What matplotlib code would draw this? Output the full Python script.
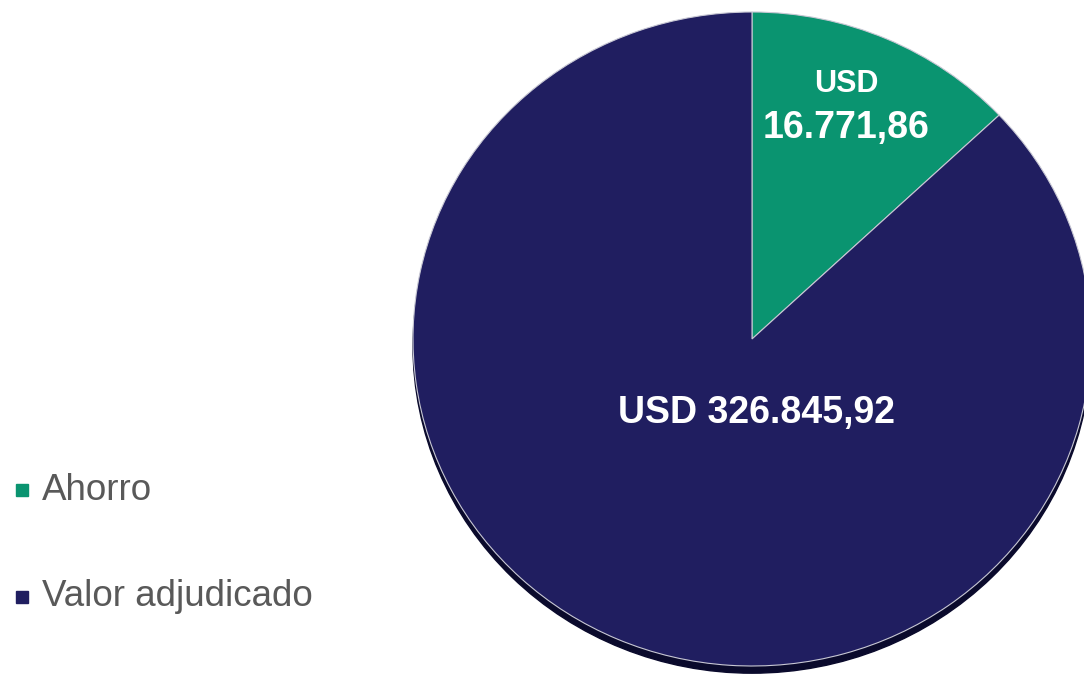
import matplotlib.pyplot as plt
from matplotlib.patches import Ellipse, Rectangle

categorias = ["Ahorro", "Valor adjudicado"]
# participación de cada porción tal como se ve en el gráfico (%)
participacion = [13.0, 87.0]
etiquetas = ["USD\n16.771,86", "USD 326.845,92"]
colores = ["#0A9470", "#201E60"]

plt.rcParams["font.family"] = ["Liberation Sans", "DejaVu Sans"]

fig = plt.figure(figsize=(10.84, 6.74), dpi=100)
ax = fig.add_axes([0, 0, 1, 1])

# centro y radios del pastel en píxeles
cx, cy, rx, ry = 752, 339, 339, 327

# sombra inferior
ax.add_patch(Ellipse((0, -0.022), 2.0, 2.0, color="#0a0a2c", zorder=0))

cunas, _ = ax.pie(participacion, colors=colores, startangle=90, counterclock=False,
                  radius=1.0, center=(0, 0), frame=True,
                  wedgeprops=dict(edgecolor="#c8c8d4", linewidth=0.8))
ax.set_xlim(-cx / rx, (1084 - cx) / rx)
ax.set_ylim(-(674 - cy) / ry, cy / ry)
ax.set_aspect("auto")
ax.axis("off")

# etiquetas de datos
linea1, linea2 = etiquetas[0].split("\n")
ax.text((846 - cx) / rx, (cy - 84) / ry, linea1, color="white",
        fontsize=22, fontweight="bold", ha="center", va="center")
ax.text((846 - cx) / rx, (cy - 128) / ry, linea2, color="white",
        fontsize=27, fontweight="bold", ha="center", va="center")
ax.text((757 - cx) / rx, (cy - 413) / ry, etiquetas[1], color="white",
        fontsize=27, fontweight="bold", ha="center", va="center")

# leyenda manual
for i, (nombre, color) in enumerate(zip(categorias, colores)):
    y = 1 - (490 + i * 107) / 674
    fig.patches.append(Rectangle((16 / 1084, y - 6 / 674), 12 / 1084, 12 / 674,
                                 transform=fig.transFigure, color=color, figure=fig))
    fig.text(42 / 1084, y, nombre, color="#595959", fontsize=26.5, va="center", ha="left")

fig.savefig("out.png", dpi=100)
plt.close(fig)
